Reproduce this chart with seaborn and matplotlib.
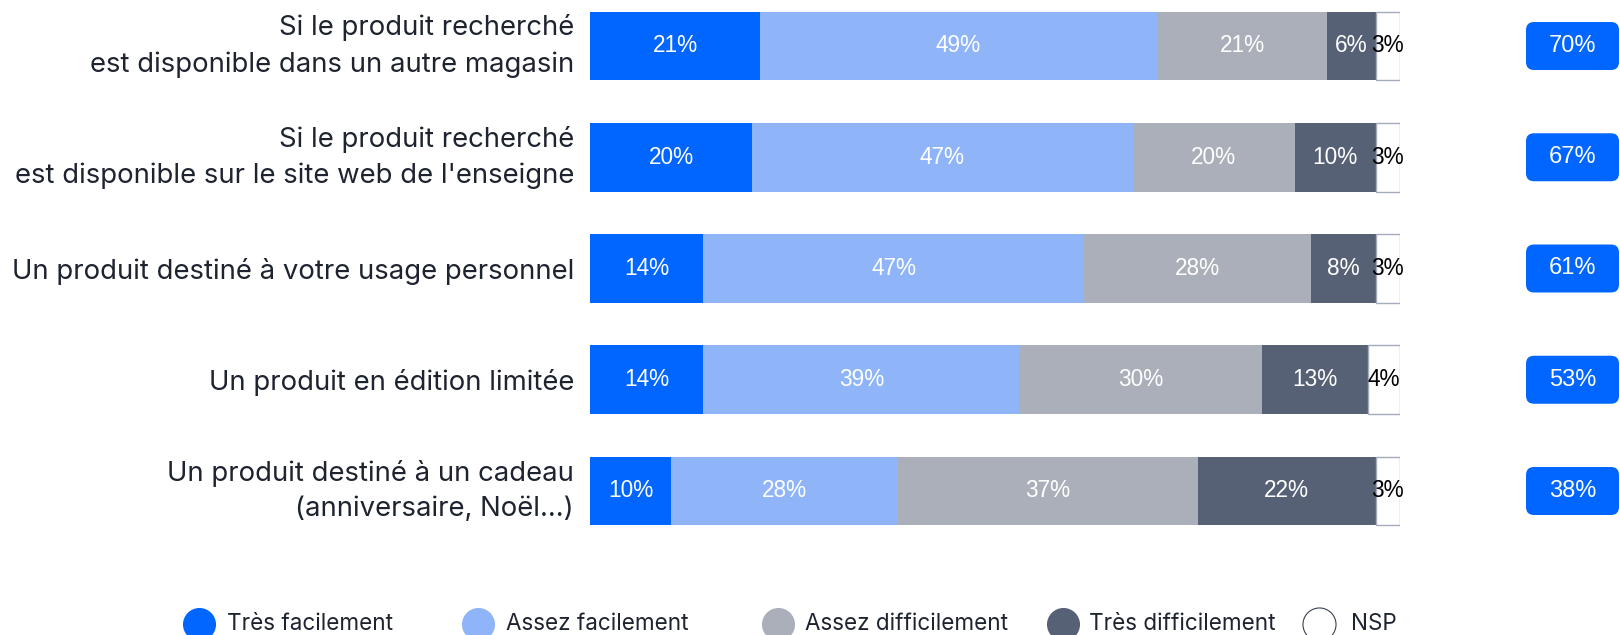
import numpy as np
import pandas as pd
import matplotlib
matplotlib.use("Agg")
import matplotlib.pyplot as plt
import seaborn as sns
from matplotlib.patches import FancyBboxPatch
from matplotlib.lines import Line2D

# ---- data ----
categories = [
    "Si le produit recherché\nest disponible dans un autre magasin",
    "Si le produit recherché\nest disponible sur le site web de l'enseigne",
    "Un produit destiné à votre usage personnel",
    "Un produit en édition limitée",
    "Un produit destiné à un cadeau\n(anniversaire, Noël...)",
]
series_names = ["Très facilement", "Assez facilement", "Assez difficilement",
                "Très difficilement", "NSP"]
tres_facilement = [21, 20, 14, 14, 10]
assez_facilement = [49, 47, 47, 39, 28]
assez_difficilement = [21, 20, 28, 30, 37]
tres_difficilement = [6, 10, 8, 13, 22]
nsp = [3, 3, 3, 4, 3]
totals_facilement = [70, 67, 61, 53, 38]

colors = ["#0066FF", "#8FB5F8", "#ABAFB9", "#566175", "#FFFFFF"]
label_colors = ["white", "white", "white", "white", "black"]
text_dark = "#1E2330"

sns.set_theme(style="white")
plt.rcParams["font.family"] = ["Inter", "DejaVu Sans"]

W, H = 1620, 635
fig = plt.figure(figsize=(W / 100, H / 100), dpi=100)
ax = fig.add_axes([590 / W, 0, 810 / W, 1])

series = np.array([tres_facilement, assez_facilement, assez_difficilement,
                   tres_difficilement, nsp], dtype=float)
cum = np.cumsum(series, axis=0)

for k in range(4, -1, -1):
    df = pd.DataFrame({"cat": categories, "val": cum[k]})
    sns.barplot(data=df, x="val", y="cat", orient="h", color=colors[k],
                saturation=1, width=0.62, errorbar=None, ax=ax,
                edgecolor="#A4ABBA" if k == 4 else "none",
                linewidth=1.0 if k == 4 else 0)

# the NSP layer (first drawn) only needs to cover its own segment
nsp_patches = ax.patches[:len(categories)]
for i, p in enumerate(nsp_patches):
    p.set_x(cum[3, i])
    p.set_width(series[4, i])
    p.set_zorder(3)

row_px = 111.25
ax.set_ylim((H - 46) / row_px, -46 / row_px)
ax.set_xlim(0, 100)
ax.set_xticks([])
ax.set_xlabel("")
ax.set_ylabel("")
for s in ax.spines.values():
    s.set_visible(False)
ax.patch.set_alpha(0)
ax.tick_params(axis="y", length=0, pad=11.5, labelsize=19.8, labelcolor=text_dark)
for lab in ax.get_yticklabels():
    lab.set_linespacing(1.47)
    if "\n" in lab.get_text():
        lab.set_verticalalignment("center")

# segment labels
for i in range(len(categories)):
    left = 0
    for k in range(5):
        v = series[k, i]
        ax.text(left + v / 2, i, f"{int(v)}%", ha="center", va="center",
                fontsize=16.3, color=label_colors[k], family="Liberation Sans",
                zorder=5)
        left += v

# badges
px_x = 810 / 100
px_y = row_px
bw = 93 / px_x
bh = 48 / px_y
bx0 = (1526 - 590) / px_x
rr = 8 / px_x
for i, t in enumerate(totals_facilement):
    p = FancyBboxPatch((bx0, i - bh / 2), bw, bh,
                       boxstyle=f"round,pad=0,rounding_size={rr}",
                       mutation_aspect=px_x / px_y,
                       transform=ax.transData, clip_on=False,
                       fc="#0066FF", ec="none")
    ax.add_patch(p)
    ax.text(bx0 + bw / 2, i, f"{t}%", ha="center", va="center", fontsize=17,
            color="white", family="Liberation Sans", clip_on=False)

# legend
leg_cx = [199, 478, 778, 1063, 1319]
leg_tx = [227, 506, 805, 1089, 1351]
ly = 1 - 624 / H
for k, name in enumerate(series_names):
    fig.add_artist(Line2D([leg_cx[k] / W], [ly], marker="o", markersize=23.8,
                          mfc=colors[k], mec="#3A4150" if k == 4 else colors[k],
                          mew=0.8 if k == 4 else 0, linestyle="none",
                          transform=fig.transFigure))
    fig.text(leg_tx[k] / W, ly, name, ha="left", va="center", fontsize=16.2,
             color=text_dark)

fig.savefig("out.png", dpi=100)
